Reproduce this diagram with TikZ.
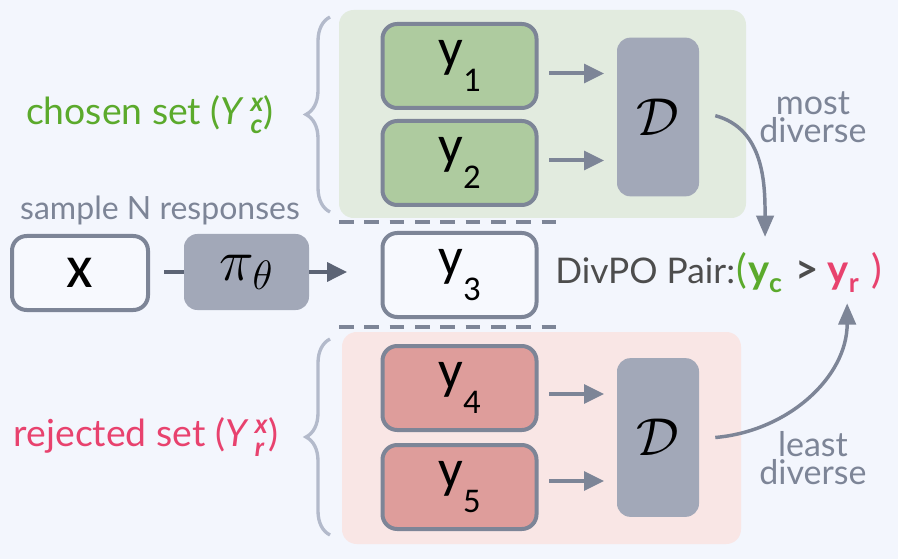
\RequirePackage{fix-cm}
\documentclass[tikz,border=0pt]{standalone}
\usepackage{amsmath}
\usepackage{fontspec}
\setmainfont{Lato}
\newfontfamily\boxfont{Carlito}
\usetikzlibrary{arrows.meta, positioning, calc, decorations.pathreplacing}
\definecolor{bg}{HTML}{F3F6FD}
\definecolor{edge}{HTML}{7D8597}
\definecolor{dark}{HTML}{5C6475}
\definecolor{dfill}{HTML}{A2A8B8}
\definecolor{chosenbg}{HTML}{E2EBDF}
\definecolor{rejectbg}{HTML}{F9E6E5}
\definecolor{chosenfill}{HTML}{AECB9F}
\definecolor{rejectfill}{HTML}{DE9D9B}
\definecolor{chosen}{HTML}{5BAA2C}
\definecolor{reject}{HTML}{E8426E}
\definecolor{bracec}{HTML}{B3BACB}
\definecolor{txt}{HTML}{4D4D4D}
\definecolor{xfill}{HTML}{F7F9FE}
\newcommand{\ylab}[1]{y\raisebox{-19pt}{\fontsize{26}{26}\selectfont #1}}
\newcommand{\ypair}[1]{\textbf{y}\raisebox{-7pt}{\fontsize{20}{20}\selectfont\bfseries #1}}
\newcommand{\setsym}[1]{\textit{Y}\,$^{\text{\bfseries\itshape x}}_{\text{\bfseries\itshape #1}}$}

\begin{document}
\begin{tikzpicture}[
  x=0.75pt, y=-0.75pt,
  font=\fontsize{24}{28}\selectfont,
  resp/.style={
    draw=edge, line width=3pt, rounded corners=11pt, inner sep=0pt,
    minimum width=115.5pt, minimum height=63pt,
    font=\boxfont\fontsize{41}{44}\selectfont
  },
  div/.style={
    fill=dfill, rounded corners=10pt, inner sep=0pt,
    minimum width=61.5pt, minimum height=119pt,
    font=\fontsize{40}{44}\selectfont
  },
  lab/.style={inner sep=0pt, text=edge},
  setlab/.style={inner sep=0pt, font=\fontsize{28}{32}\selectfont},
  pairfont/.style={inner sep=0pt, font=\fontsize{30}{32}\selectfont},
  arr/.style={-{Triangle[length=15pt, width=14pt]}, edge, line width=3pt},
  darr/.style={-{Triangle[length=15pt, width=14pt]}, dark, line width=3pt},
  curvearr/.style={-{Triangle[length=16pt, width=13pt]}, edge, line width=2.6pt},
  cut/.style={edge, line width=3pt, dash pattern=on 11pt off 8pt},
  brc/.style={bracec, line width=2.5pt, decorate,
    decoration={brace, amplitude=18pt}}
]
  \useasboundingbox (0,0) rectangle (898,559);
  \fill[bg] (0,0) rectangle (898,559);

  % set panels and braces
  \fill[chosenbg, rounded corners=11pt] (339,10) rectangle (746,218);
  \fill[rejectbg, rounded corners=11pt] (342,332) rectangle (741,544);
  \draw[brc] (330,212) -- (330,17);
  \draw[brc] (330,535) -- (330,339);
  \draw[cut] (339,222) -- (567,222);
  \draw[cut] (339,327) -- (567,327);

  % responses
  \node[resp, fill=chosenfill] (y1) at (459.5,66) {\ylab{1}};
  \node[resp, fill=chosenfill] (y2) at (459.5,163) {\ylab{2}};
  \node[resp, fill=xfill] (y3) at (459.5,275) {\ylab{3}};
  \node[resp, fill=rejectfill] (y4) at (459.5,388) {\ylab{4}};
  \node[resp, fill=rejectfill] (y5) at (459.5,487) {\ylab{5}};

  \node[div] (D1) at (658,117) {$\mathcal{D}$};
  \node[div] (D2) at (658,437.5) {$\mathcal{D}$};

  % prompt and policy
  \node[resp, fill=xfill, minimum width=102pt, minimum height=55.5pt,
    font=\boxfont\fontsize{46}{48}\selectfont] (x) at (80,273) {x};
  \node[div, minimum width=93.75pt, minimum height=57pt,
    font=\fontsize{44}{48}\selectfont] (pi) at (246.5,272) {$\pi_\theta$};

  % labels
  \node[setlab, text=chosen] (chosenlab) at (150,115) {chosen set (\setsym{c})};
  \node[lab] (samplelab) at (160,210) {sample N responses};
  \node[setlab, text=reject] (rejectlab) at (146,437) {rejected set (\setsym{r})};
  \node[lab, align=center, font=\fontsize{25.5}{21}\selectfont] (most) at (813,117) {most\\diverse};
  \node[lab, align=center, font=\fontsize{25.5}{21}\selectfont] (least) at (813,458) {least\\diverse};

  % pair
  \node[inner sep=0pt, text=txt, anchor=base west,
    font=\fontsize{26.5}{30}\selectfont] (pair) at (555,283) {DivPO Pair:};
  \node[pairfont, text=chosen, anchor=base west] (lp) at ([xshift=1pt]pair.base east) {(};
  \node[pairfont, text=chosen, anchor=base west] (yc) at (lp.base east) {\ypair{c}};
  \node[pairfont, text=txt, anchor=base west] (gt) at ([xshift=10pt]yc.base east) {\textbf{>}};
  \node[pairfont, text=reject, anchor=base west] (yr) at ([xshift=6pt]gt.base east) {\ypair{r}};
  \node[pairfont, text=reject, anchor=base west] (rp) at ([xshift=9pt]yr.base east) {)};

  % connectors
  \draw[dark, line width=3pt] ([xshift=10.5pt]x.east |- pi.west) -- (pi.west);
  \draw[darr, shorten >=25pt] (pi.east) -- (pi.east -| y3.west);
  \foreach \s/\d/\o in {y1/D1/-43.5, y2/D1/43.5, y4/D2/-43.5, y5/D2/43.5} {
    \coordinate (\s-in) at ($(\d.west)+(0,\o)$);
    \draw[arr, shorten <=8pt, shorten >=9.5pt] (\s.east |- \s-in) -- (\s-in);
  }
  \draw[curvearr] ([xshift=12pt,yshift=1pt]D1.east) to[out=-15, in=90] ([yshift=19pt]yc.north);
  \draw[curvearr] ([xshift=12pt]D2.east) to[out=5, in=-90] ([xshift=3pt,yshift=-8pt]yr.south);
\end{tikzpicture}
\end{document}
